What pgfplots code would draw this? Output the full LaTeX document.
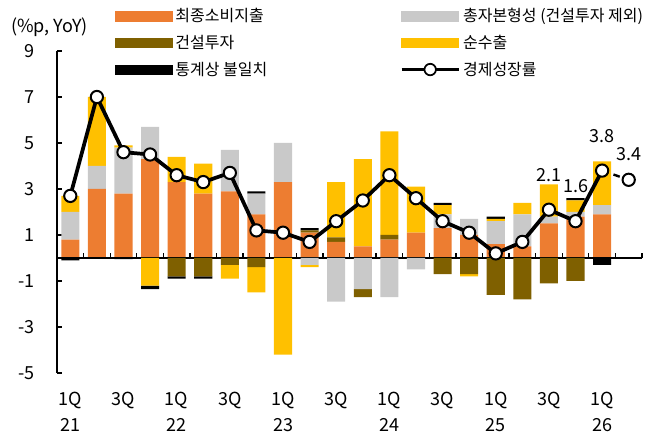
\documentclass[border=0pt]{standalone}
\usepackage{fontspec}
\setmainfont{Noto Sans CJK KR}
\usepackage{pgfplots}
\usepackage{pgfplotstable}
\pgfplotsset{compat=1.18}

\definecolor{cons}{HTML}{ED7D31}
\definecolor{capx}{HTML}{C9C9C9}
\definecolor{cstr}{HTML}{7F6000}
\definecolor{nexp}{HTML}{FFC000}

% positive contributions (%p): consumption, construction, other capex, net exports, discrepancy
\pgfplotstableread{
x O B G Y K
0 0.8 0 1.2 0.7 0
1 3.0 0 1.0 3.0 0
2 2.8 0 2.0 0.1 0
3 4.3 0 1.4 0 0
4 3.3 0 0 1.1 0
5 2.8 0 0 1.3 0
6 2.9 0 1.8 0 0
7 1.9 0 0.9 0 0.1
8 3.3 0 1.7 0 0
9 1.1 0.1 0 0 0.1
10 0.7 0.2 0 2.4 0
11 0.5 0 0 3.8 0
12 0.8 0.2 0 4.5 0
13 1.1 0 0 2.0 0
14 1.3 0 0.6 0.4 0.1
15 1.0 0 0.7 0 0
16 0.6 0 1.0 0.1 0.1
17 0.5 0 1.4 0.5 0
18 1.5 0 0.3 1.4 0
19 1.8 0 0.2 0.5 0.1
20 1.9 0 0.4 1.9 0
}\postab

% negative contributions (%p)
\pgfplotstableread{
x G B Y K
0 0 0 0 -0.1
1 0 0 0 0
2 0 0 0 -0.05
3 0 0 -1.2 -0.15
4 0 -0.8 0 -0.1
5 0 -0.8 0 -0.1
6 0 -0.3 -0.6 0
7 0 -0.4 -1.1 0
8 0 0 -4.2 0
9 -0.3 0 -0.1 0
10 -1.9 0 0 0
11 -1.35 -0.35 0 0
12 -1.7 0 0 0
13 -0.5 0 0 0
14 0 -0.7 0 0
15 0 -0.7 -0.1 0
16 0 -1.6 0 0
17 0 -1.8 0 0
18 0 -1.1 0 0
19 0 -1.0 0 0
20 0 0 0 -0.3
}\negtab

% real GDP growth (% YoY)
\pgfplotstableread{
x g
0 2.7
1 7.0
2 4.6
3 4.5
4 3.6
5 3.3
6 3.7
7 1.2
8 1.1
9 0.7
10 1.6
11 2.5
12 3.6
13 2.6
14 1.6
15 1.1
16 0.2
17 0.7
18 2.1
19 1.6
20 3.8
}\gdptab

\newcommand\numfont{\fontsize{13.5}{16}\selectfont}
\newcommand\legfont{\fontsize{12}{14.5}\selectfont}

\pgfplotsset{
  frame/.style={
    scale only axis, width=438.75pt, height=241.5pt,
    xmin=-0.5, xmax=21.5, ymin=-5, ymax=9,
    clip=false,
    /pgf/number format/assume math mode=true,
  },
  bars/.style={frame, ybar stacked, bar width=0.68},
  sq/.style={legend image code/.code={\fill[#1] (0pt,-3.4pt) rectangle (42.75pt,3.4pt);}},
  keybox/.style={legend columns=1, legend cell align=left,
    legend style={draw=none, fill=none, font=\legfont,
      at={(axis description cs:0,1)}, anchor=north west,
      yshift=36pt, row sep=4.5pt}},
}

\begin{document}
\begin{tikzpicture}
\useasboundingbox (-42.75pt,-54.75pt) rectangle (455.25pt,279.75pt);

% positive stack, axes and left legend column
\begin{axis}[bars,
  axis y line*=left, axis x line*=bottom,
  x axis line style={draw=none},
  axis line style={line width=1.1pt},
  tick align=inside,
  major tick length=4pt,
  major tick style={line width=1pt, black},
  xtick={0,2,...,20},
  x tick style={draw=none},
  xticklabels={1Q\\[3.5pt]21,3Q,1Q\\[3.5pt]22,3Q,1Q\\[3.5pt]23,3Q,1Q\\[3.5pt]24,3Q,1Q\\[3.5pt]25,3Q,1Q\\[3.5pt]26},
  xticklabel style={align=center, font=\numfont, yshift=-10.5pt},
  ytick={-5,-3,...,9},
  yticklabel style={font=\numfont, xshift=-13pt},
  keybox, legend style={xshift=40.5pt},
]
\addlegendimage{sq=cons}\addlegendentry{최종소비지출}
\addlegendimage{sq=cstr}\addlegendentry{건설투자}
\addlegendimage{sq=black}\addlegendentry{통계상 불일치}

\addplot[fill=cons, draw=none, forget plot] table[x=x, y=O] {\postab};
\addplot[fill=cstr, draw=none, forget plot] table[x=x, y=B] {\postab};
\addplot[fill=capx, draw=none, forget plot] table[x=x, y=G] {\postab};
\addplot[fill=nexp, draw=none, forget plot] table[x=x, y=Y] {\postab};
\addplot[fill=black, draw=none, forget plot] table[x=x, y=K] {\postab};

\node[font=\numfont] at (rel axis cs:0,1) [xshift=-5.6pt, yshift=18pt] {(\%p, YoY)};
\end{axis}

% negative stack and zero line
\begin{axis}[bars, hide axis]
\addplot[fill=capx, draw=none] table[x=x, y=G] {\negtab};
\addplot[fill=cstr, draw=none] table[x=x, y=B] {\negtab};
\addplot[fill=nexp, draw=none] table[x=x, y=Y] {\negtab};
\addplot[fill=black, draw=none] table[x=x, y=K] {\negtab};
\draw[line width=1.1pt] (axis cs:-0.5,0) -- (axis cs:21.5,0);
\pgfplotsinvokeforeach{0,...,21}{
  \draw[line width=1pt] (axis cs:#1.5,0) -- ++(0pt,4pt);
}
\end{axis}

% growth line, value labels and right legend column
\begin{axis}[frame, hide axis, keybox, legend style={xshift=254pt}]
\addlegendimage{sq=capx}\addlegendentry{총자본형성 (건설투자 제외)}
\addlegendimage{sq=nexp}\addlegendentry{순수출}
\addlegendimage{legend image code/.code={
  \draw[black, line width=2.6pt] (0pt,0pt) -- (42.75pt,0pt);
  \draw[black, line width=1.3pt, fill=white] (21.4pt,0pt) circle (4.3pt);}}
\addlegendentry{경제성장률}

\addplot[black, line width=1.8pt, dash pattern=on 5pt off 4pt, forget plot] coordinates {(20,3.8) (21,3.4)};
\addplot[black, line width=2.8pt, mark=*, mark size=4.6pt,
  mark options={fill=white, draw=black, line width=1.5pt, solid}, forget plot]
  table[x=x, y=g] {\gdptab};
\addplot[only marks, mark=*, mark size=4.6pt,
  mark options={fill=white, draw=black, line width=1.5pt}, forget plot]
  coordinates {(21,3.4)};
\addplot[draw=none, mark=none, nodes near coords, point meta=y, forget plot,
  nodes near coords={\pgfmathprintnumber[fixed,fixed zerofill,precision=1,assume math mode=true]{\pgfplotspointmeta}},
  nodes near coords style={anchor=center, yshift=26pt, font=\numfont}]
  coordinates {(18,2.1) (19,1.6) (20,3.8)};
\addplot[draw=none, mark=none, nodes near coords, point meta=y, forget plot,
  nodes near coords={\pgfmathprintnumber[fixed,fixed zerofill,precision=1,assume math mode=true]{\pgfplotspointmeta}},
  nodes near coords style={anchor=center, yshift=19pt, font=\numfont}]
  coordinates {(21,3.4)};
\end{axis}
\end{tikzpicture}
\end{document}
